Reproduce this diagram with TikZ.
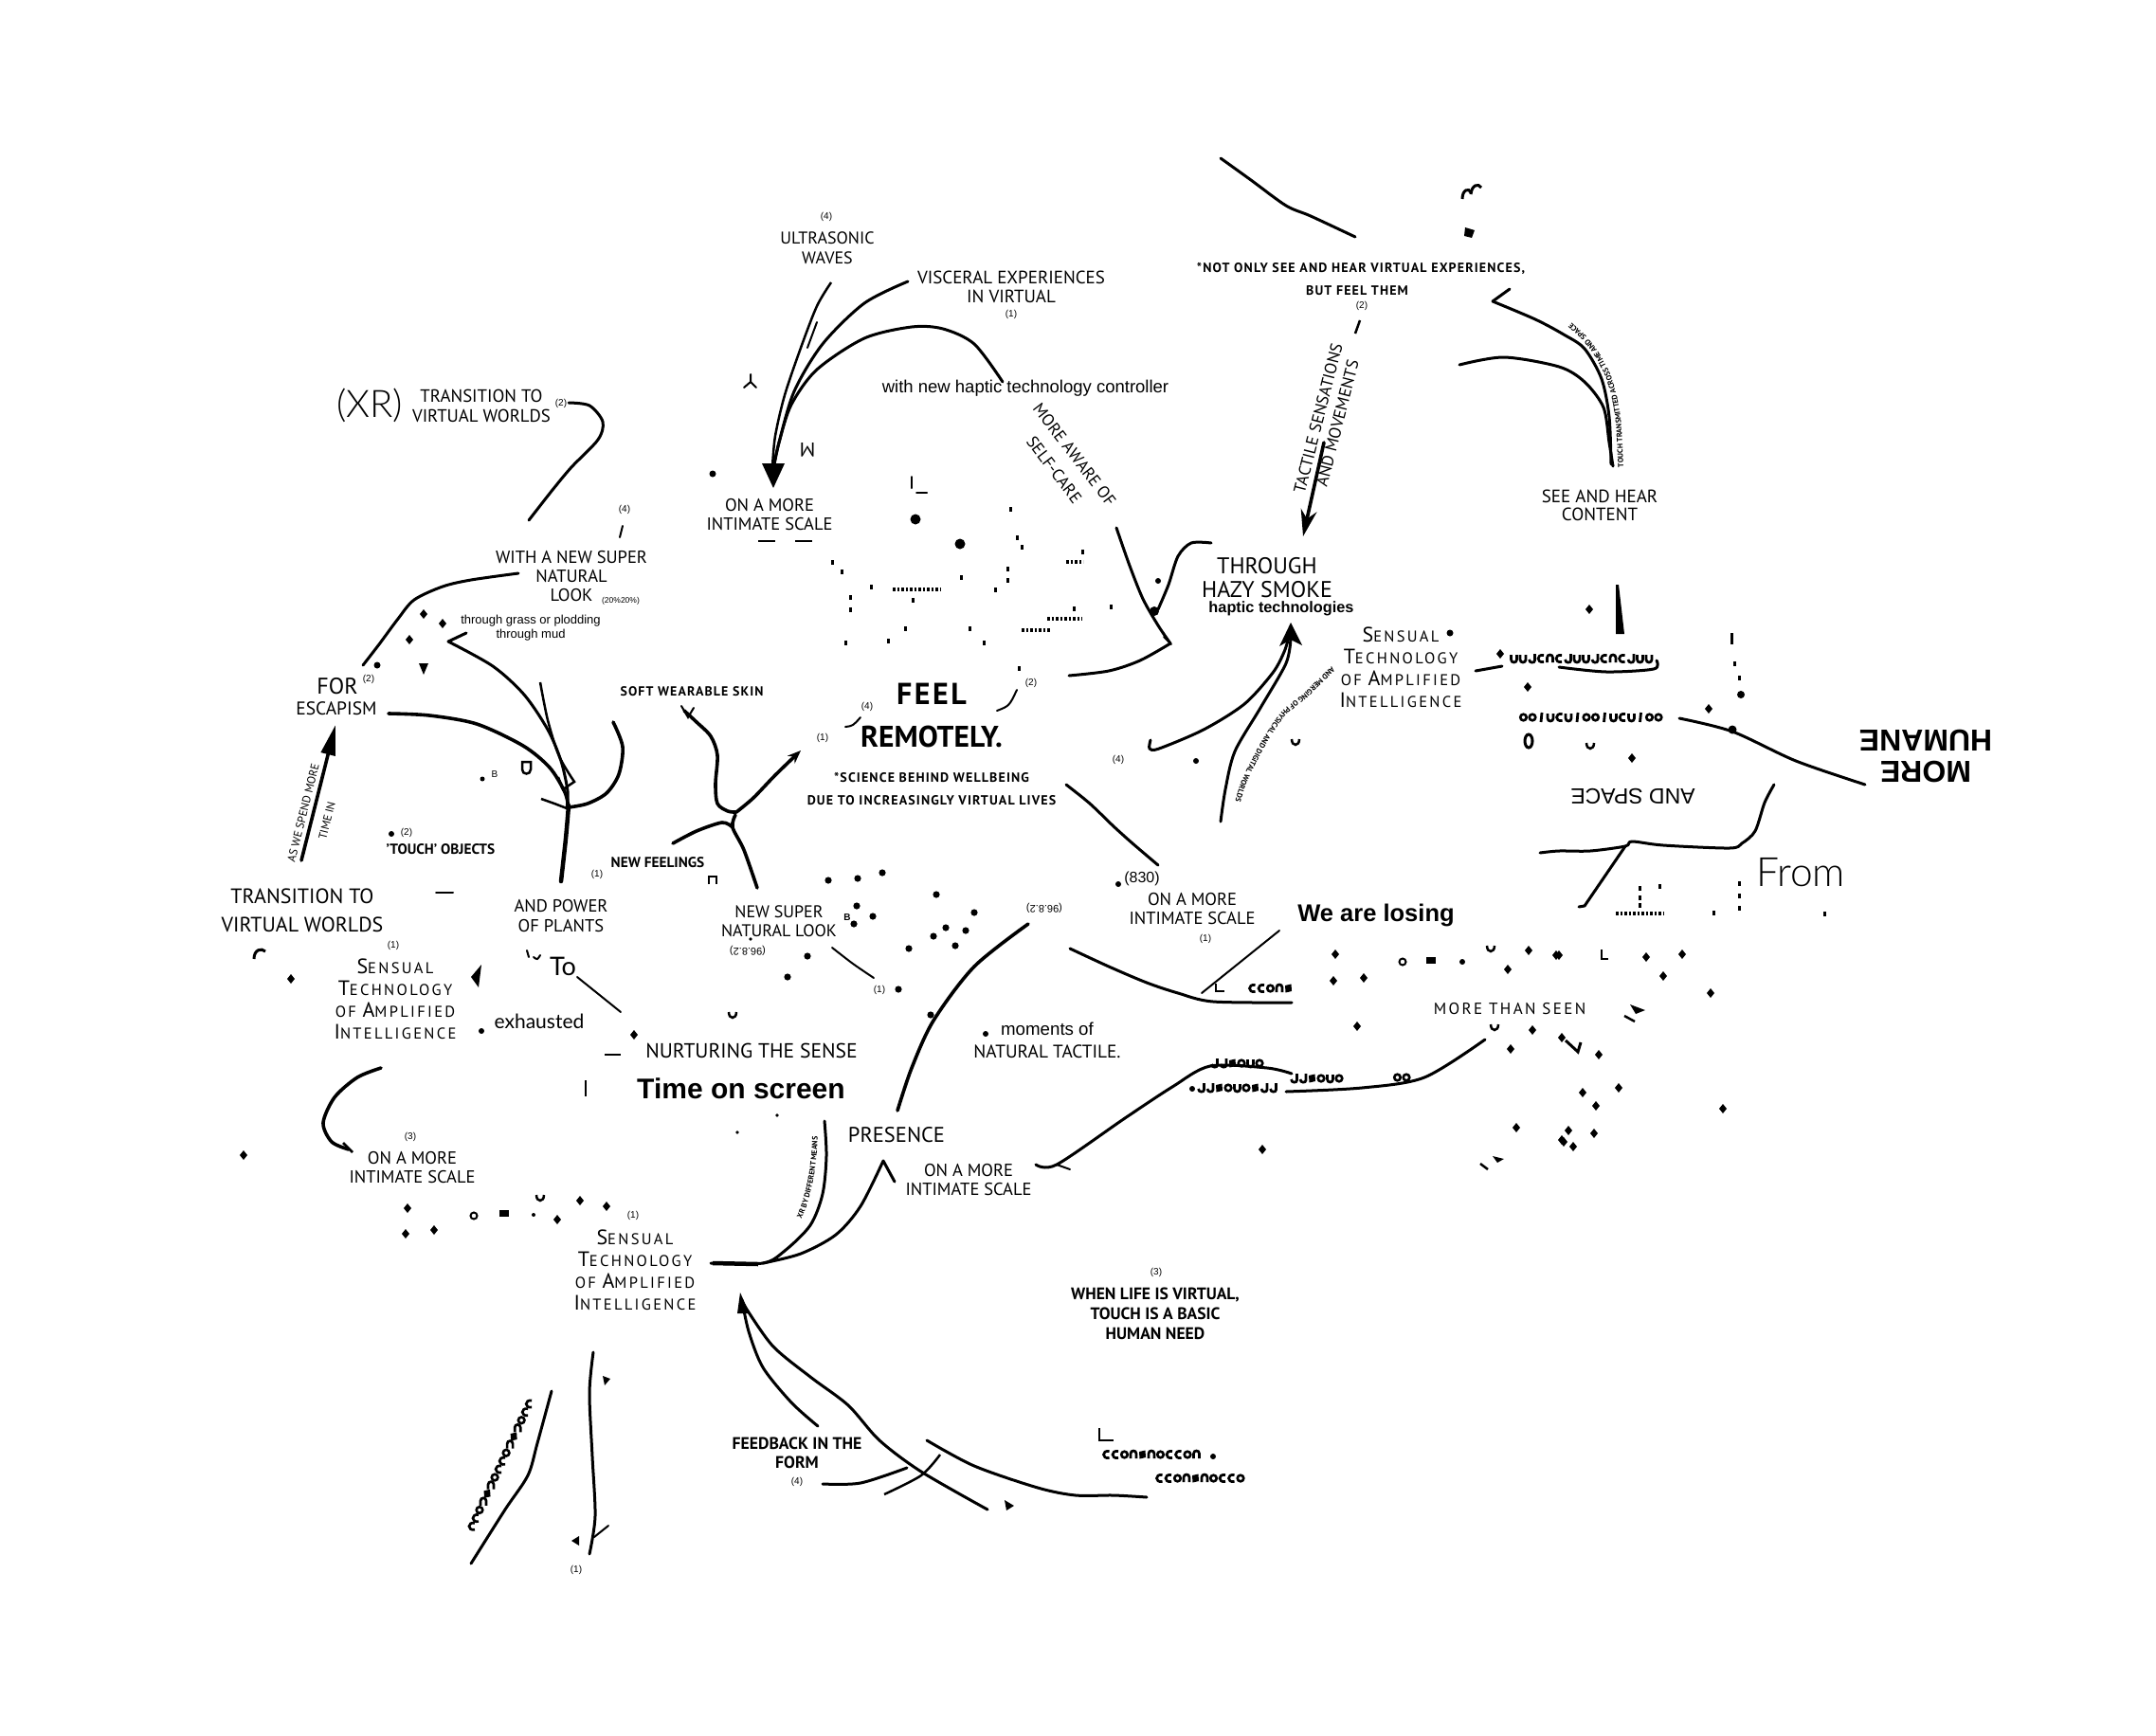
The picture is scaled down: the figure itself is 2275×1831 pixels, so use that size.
\documentclass[tikz,border=0pt]{standalone}
\usepackage{fontspec}
\setmainfont{PT Sans}
\newfontfamily\libfnt{Liberation Sans}
\newfontfamily\scfnt{PT Sans}[LetterSpace=14]
\newfontfamily\widefnt{PT Sans}[LetterSpace=8]
\IfFontExistsTF{Lato Light}{\newfontfamily\thinfnt{Lato Light}}{\newfontfamily\thinfnt{Liberation Sans}}
\IfFontExistsTF{Lato}{\newfontfamily\latofnt{Lato}}{\newfontfamily\latofnt{Liberation Sans}}
\usetikzlibrary{arrows.meta,decorations.text}
\newcommand\fsz[2]{\fontsize{#1}{#2}\selectfont}
\newcommand\scA[1]{{\fsz{22}{23}#1}}
\newcommand\scB[1]{{\fsz{16.5}{23}#1}}
\newcommand\glyphrow[3]{%
  \foreach \i in {1,...,#3}{%
    \pgfmathtruncatemacro\gm{mod(\i*\i*3+\i*5+abs(round(#1)),7)}%
    \pgfmathsetmacro\gx{#1+9.5*\i}%
    \ifcase\gm \pic at (\gx,#2) {gA};%
    \or \pic at (\gx,#2) {gB};%
    \or \pic at (\gx,#2) {gC};%
    \or \pic at (\gx,#2) {gD};%
    \or \pic at (\gx,#2) {gE};%
    \or \pic at (\gx,#2) {gF};%
    \else \pic at (\gx,#2) {gG};%
    \fi}}
\begin{document}
\begin{tikzpicture}[x=1pt,y=-1pt,
  txt/.style={inner sep=0pt, align=center},
  num/.style={inner sep=0pt, font=\libfnt\fsz{10}{11}},
  ln/.style={line width=3pt, line cap=round, line join=round},
  thk/.style={line width=3.6pt, line cap=round, line join=round},
  thn/.style={line width=2pt, line cap=round},
  tinyrow/.style={line width=4pt, dash pattern=on 2.5pt off 2pt},
  dia/.pic={\fill (0,-5)--(4,0)--(0,5)--(-4,0)--cycle;},
  mk/.pic={\fill (-1.5,-2.5) rectangle (1.5,2.5);},
  hk/.pic={\draw[line width=2.5pt] (-4,-4) .. controls (-4,4) and (4,4) .. (4,-4);},
  ring/.pic={\draw[line width=2pt] (0,0) circle (3.5);},
  blob/.pic={\fill (-5,-3.5) rectangle (5,3.5);},
  gA/.pic={\draw[line width=2.7pt] (-3,-4) -- (-3,1) .. controls (-3,5) and (3,5) .. (3,1) -- (3,-4);},
  gB/.pic={\draw[line width=2.7pt] (-3,4) -- (-3,-1) .. controls (-3,-5) and (3,-5) .. (3,-1) -- (3,4);},
  gC/.pic={\draw[line width=2.8pt] (0.5,-5) -- (-0.5,5);},
  gD/.pic={\draw[line width=2.6pt] (0,0) circle (3.3);},
  gE/.pic={\draw[line width=2.7pt] (3,-3.5) .. controls (-5,-5) and (-5,5) .. (3,3.5);},
  gF/.pic={\fill (-3.5,-3) -- (3,-4.5) -- (3.5,3) -- (-3,4.5) -- cycle;},
  gG/.pic={\draw[line width=2.7pt] (3,-5) -- (3,2) .. controls (3,5) and (-3,5) .. (-3,1);}
]
\fill[white] (0,0) rectangle (2275,1831);
\useasboundingbox (0,0) rectangle (2275,1831);

% ================= top left =================
\node[txt,font=\thinfnt\fsz{40}{42}] (xr) at (390,428) {(XR)};
\node[txt,font=\fsz{18.8}{21}] (trA) at (508,428) {TRANSITION TO\\VIRTUAL WORLDS};
\node[num] (trAn) at (592,426) {(2)};
\draw[ln] plot[smooth] coordinates {(600,425) (622,428) (636,445) (631,464) (603,493) (583,517) (558,549)};
\node[num] (wn4) at (659,538) {(4)};
\draw[thn] (657,555) -- (654,567);
\node[txt,font=\fsz{18.5}{20}] (withnew) at (603,608) {WITH A NEW SUPER\\NATURAL\\LOOK};
\node[txt,font=\libfnt\fsz{8.5}{9}] (pct) at (655,634) {(20\%20\%)};
\draw[ln] plot[smooth] coordinates {(547,605) (497,612) (467,619) (437,633) (420,653) (400,680) (383,702)};
\pic at (447,648) {dia}; \pic at (467,658) {dia}; \pic at (432,675) {dia};
\fill (398,702) circle (3.5);
\fill (442,700) -- (452,700) -- (447,712) -- cycle;
\node[txt,font=\libfnt\fsz{13}{15}] (grass) at (560,663) {through grass or plodding\\through mud};
\draw[ln] (492,668) -- (473,677);
\draw[ln] plot[smooth] coordinates {(473,677) (520,703) (553,733) (578,770) (592,803) (599,835) (598,853)};
\draw[line width=2.5pt] plot[smooth] coordinates {(570,720) (578,760) (590,798) (606,825)} -- (594,833) -- (589,820);
\node[txt,font=\fsz{24}{26}] (for) at (356,724) {FOR};
\node[num] (forn) at (389,717) {(2)};
\node[txt,font=\fsz{19.5}{21}] (esc) at (355,748) {ESCAPISM};
\draw[thk] plot[smooth] coordinates {(410,753) (453,755) (503,764) (552,787) (580,810) (596,836) (600,853)};
\draw[thk] plot[smooth] coordinates {(647,762) (657,788) (653,817) (640,837) (620,848) (600,852)};
\draw[line width=4.5pt, line cap=round] plot[smooth] coordinates {(600,850) (597,885) (592,930)};
\draw[line width=2.5pt] (571,843) -- (585,848) -- (598,853);
\draw[thk,-{Triangle[length=32pt,width=15pt]}] (318,908) -- (354,765);
\node[txt,font=\fsz{12}{12},rotate=76] (asw) at (320,858) {AS WE SPEND MORE};
\node[txt,font=\fsz{12}{12},rotate=76] (timein) at (345,866) {TIME IN};
\fill (413,880) circle (3);
\node[num] (tn2) at (429,879) {(2)};
\node[txt,font=\bfseries\fsz{15.3}{16}] (touch) at (465,896) {'TOUCH' OBJECTS};
\node[txt,font=\libfnt\fsz{10}{11}] (bA) at (522,817) {B};
\fill (509,822) circle (2.5);
\draw[line width=2.5pt] (551,804) -- (551,812) .. controls (551,818) and (560,818) .. (560,812) -- (560,804) -- cycle;

% ================= left middle =================
\node[txt,font=\fsz{22}{30}] (trB) at (319,961) {TRANSITION TO\\VIRTUAL WORLDS};
\draw[thn] (460,942) -- (478,942);
\node[num] (pw1) at (630,923) {(1)};
\node[txt,font=\fsz{18.5}{21}] (power) at (592,967) {AND POWER\\OF PLANTS};
\node[num] (sa1) at (415,998) {(1)};
\node[txt,font=\scfnt\fsz{16.5}{23}] (staiA) at (417,1054) {\scA{S}\scB{ENSUAL}\\\scA{T}\scB{ECHNOLOGY}\\\scB{OF} \scA{A}\scB{MPLIFIED}\\\scA{I}\scB{NTELLIGENCE}};
\draw[line width=3pt] (268,1012) .. controls (268,1002) and (276,1000) .. (280,1004);
\pic at (307,1033) {dia};
\fill (508,1018) -- (505,1042) -- (497,1031) -- cycle;
\draw[thn] (556,1003) -- (558,1010);
\draw[thn] (563,1010) .. controls (567,1013) .. (570,1008);
\node[txt,font=\latofnt\fsz{27}{28}] (to) at (594,1020) {To};
\draw[thn] (609,1031) -- (655,1068);
\fill (508,1088) circle (3);
\node[txt,font=\latofnt\fsz{21}{22}] (exh) at (569,1078) {exhausted};
\pic at (669,1092) {dia};
\draw[line width=2.5pt] (638,1113) -- (655,1113);
\draw[line width=2pt] (618,1140) -- (618,1157);
\node[txt,font=\fsz{21.6}{22}] (nurt) at (793,1109) {NURTURING THE SENSE};
\node[txt,font=\libfnt\bfseries\fsz{30}{32}] (time) at (782,1149) {Time on screen};
\draw[thk] plot[smooth] coordinates {(402,1127) (377,1137) (353,1158) (341,1185) (350,1205) (368,1213)};
\draw[line width=2.5pt] (362,1206) -- (372,1216);

% ================= bottom left =================
\pic at (257,1219) {dia};
\node[num] (ic3) at (433,1200) {(3)};
\node[txt,font=\fsz{18.5}{20}] (intC) at (435,1232) {ON A MORE\\INTIMATE SCALE};
\pic at (430,1275) {dia}; \pic at (428,1302) {dia}; \pic at (458,1298) {dia};
\pic at (500,1283) {ring}; \pic at (532,1280) {blob}; \fill (563,1282) circle (2);
\pic at (570,1265) {hk}; \pic at (588,1287) {dia}; \pic at (612,1267) {dia}; \pic at (640,1273) {dia};
\node[num] (sb1) at (668,1283) {(1)};
\node[txt,font=\scfnt\fsz{16.5}{23}] (staiB) at (670,1340) {\scA{S}\scB{ENSUAL}\\\scA{T}\scB{ECHNOLOGY}\\\scB{OF} \scA{A}\scB{MPLIFIED}\\\scA{I}\scB{NTELLIGENCE}};
\draw[ln] plot[smooth] coordinates {(626,1427) (622,1470) (625,1537) (628,1600) (622,1640)};
\draw[thn] (627,1622) -- (642,1610);
\fill (636,1452) -- (644,1455) -- (638,1462) -- cycle;
\fill (603,1626) -- (611,1621) -- (611,1631) -- cycle;
\node[num] (bl1) at (608,1657) {(1)};
\draw[ln] plot[smooth] coordinates {(582,1468) (567,1523) (557,1557) (533,1593) (497,1650)};
\begin{scope}[shift={(558,1482)},rotate=-115]
  \glyphrow{-10}{0}{16}
\end{scope}

% ================= top centre =================
\node[num] (u4) at (872,229) {(4)};
\node[txt,font=\fsz{18}{21}] (ultra) at (873,262) {ULTRASONIC\\WAVES};
\node[txt,font=\fsz{19}{20}] (visc) at (1067,303) {VISCERAL EXPERIENCES\\IN VIRTUAL};
\node[num] (v1) at (1067,332) {(1)};
\node[txt,font=\libfnt\fsz{18.5}{20}] (hapt) at (1082,410) {with new haptic technology controller};
\draw[line width=2.5pt] plot[smooth] coordinates {(877,298) (862,323) (845,367) (828,417) (818,460) (815,493)};
\draw[thn] (862,340) -- (852,367);
\draw[ln] plot[smooth] coordinates {(958,297) (912,320) (868,363) (838,413) (822,467) (816,495)};
\draw[ln] plot[smooth] coordinates {(1058,403) (1028,363) (995,347) (962,345) (912,357) (862,390) (835,427) (822,467) (816,495)};
\fill (804,489) -- (828,489) -- (816,515) -- cycle;
\node[txt,font=\fsz{18.5}{20}] (intA) at (812,543) {ON A MORE\\INTIMATE SCALE};
\draw[line width=2.5pt] (800,571) -- (818,571);
\draw[line width=2pt] (839,571) -- (857,571);
\draw[thn] (792,395) -- (792,403) -- (785,409);
\draw[thn] (792,403) -- (798,409);
\node[txt,font=\fsz{21}{21},rotate=180] (mrot) at (852,475) {M};
\draw[thn] (962,503) -- (962,515);
\draw[thn] (967,520) -- (978,520);
\fill (752,500) circle (3.5);
\fill (966,548) circle (5.5);
\fill (1013,574) circle (5.5);
\foreach \p in {(1066,537),(1073,567),(1078,577),(1142,582),(878,593),(888,603),(919,619),(963,633),(897,630),(897,643),(1014,609),(1063,600),(1063,612),(1050,622),(1133,642),(955,663),(1023,663),(1172,640),(892,678),(937,676),(1038,678),(1075,705)}
  \pic at \p {mk};
\draw[tinyrow] (1125,593) -- (1143,593);
\draw[tinyrow] (942,622) -- (993,622);
\draw[tinyrow] (1105,653) -- (1142,653);
\draw[tinyrow] (1078,665) -- (1108,665);
\coordinate (selfA1) at (1074,412); \coordinate (selfA2) at (1184,555);
\coordinate (selfB1) at (1053,428); \coordinate (selfB2) at (1162,571);
\path[decorate,decoration={text along path,text align=center,text={|\fsz{17.5}{18}|MORE AWARE OF}}] (selfA1) -- (selfA2);
\path[decorate,decoration={text along path,text align=center,text={|\fsz{17.5}{18}|SELF-CARE}}] (selfB1) -- (selfB2);
\draw[ln] plot[smooth] coordinates {(1178,557) (1192,597) (1206,632) (1222,660) (1235,679)};
\draw[ln] plot[smooth] coordinates {(1235,679) (1203,697) (1170,708) (1128,713)};
\draw[thn] (1228,672) -- (1236,680);
\draw[ln] plot[smooth] coordinates {(1278,573) (1257,573) (1243,587) (1233,617) (1222,643)};
\fill (1222,613) circle (3);
\fill (1218,645) circle (5);

% ================= FEEL REMOTELY =================
\node[txt,font=\widefnt\bfseries\fsz{13.9}{15}] (soft) at (730,730) {SOFT WEARABLE SKIN};
\draw[thk] plot[smooth] coordinates {(722,750) (735,762) (750,777) (757,797) (755,827) (757,848) (768,856) (777,857)};
\draw[thn] (719,745) -- (726,757) -- (732,747);
\draw[thk,-{Stealth[length=14pt,width=11pt]}] plot[smooth] coordinates {(777,857) (795,842) (818,818) (845,792)};
\draw[thk] plot[smooth] coordinates {(776,860) (773,873) (785,897) (799,937)};
\draw[thk] plot[smooth] coordinates {(773,873) (762,868) (735,877) (710,890)};
\node[txt,font=\bfseries\fsz{15.3}{16}] (nfeel) at (694,910) {NEW FEELINGS};
\draw[line width=2.5pt] (748,933) -- (748,925) -- (756,925) -- (756,933);
\node[txt,font=\widefnt\bfseries\fsz{32}{34}] (feel) at (983,732) {FEEL};
\node[txt,font=\bfseries\fsz{31.5}{34}] (remote) at (983,777) {REMOTELY.};
\node[num] (f4) at (915,746) {(4)};
\node[num] (f1) at (868,779) {(1)};
\node[num] (f2) at (1088,721) {(2)};
\draw[thn] (892,767) .. controls (900,766) .. (908,757);
\draw[thn] (1052,750) .. controls (1065,745) .. (1073,728);
\node[txt,font=\widefnt\bfseries\fsz{14}{24}] (sci) at (983,832) {*SCIENCE BEHIND WELLBEING\\DUE TO INCREASINGLY VIRTUAL LIVES};
\draw[ln] plot[smooth] coordinates {(1125,828) (1150,848) (1175,872) (1195,890) (1222,913)};
\node[txt,font=\fsz{18}{20}] (nsup) at (822,972) {NEW SUPER\\NATURAL LOOK};
\node[txt,font=\libfnt\fsz{11}{12},rotate=180] (d96a) at (789,1003) {(96.8.2)};
\fill (792,991) circle (1.8);
\node[txt,font=\libfnt\bfseries\fsz{10}{11}] (bB) at (894,968) {B};
\draw[thn] plot[smooth] coordinates {(878,1000) (900,1017) (922,1032)};
\node[num] (ns1) at (928,1045) {(1)};
\pic at (773,1072) {hk};
\foreach \p in {(874,929),(905,927),(931,921),(988,944),(1028,963),(904,956),(921,967),(901,975),(998,979),(1019,982),(985,988),(1008,998),(959,1001),(852,1009),(831,1031),(948,1044),(982,1071)}
  \fill \p circle (3.6);
\draw[thk] plot[smooth] coordinates {(1085,975) (1028,1020) (985,1077) (962,1127) (947,1172)};
\node[txt,font=\libfnt\fsz{11}{12},rotate=180] (d96b) at (1102,958) {(96.8.2)};
\fill (1040,1091) circle (3);
\node[txt,font=\libfnt\fsz{18.7}{20}] (mom) at (1105,1086) {moments of};
\node[txt,font=\fsz{19.3}{20}] (nat) at (1105,1110) {NATURAL TACTILE.};

% ================= presence =================
\node[txt,font=\fsz{22.5}{24}] (pres) at (946,1198) {PRESENCE};
\fill (778,1195) circle (1.8); \fill (820,1177) circle (1.8);
\draw[ln] plot[smooth] coordinates {(870,1183) (872,1220) (868,1260) (855,1293) (828,1320) (805,1333) (750,1333)};
\draw[line width=4.5pt] (752,1333) -- (800,1334);
\draw[ln] plot[smooth] coordinates {(805,1333) (845,1323) (882,1303) (908,1273) (932,1225)};
\draw[ln] (932,1225) -- (944,1247);
\path[decorate,decoration={text along path,text align=center,text={|\bfseries\fsz{8}{9}|XR BY DIFFERENT MEANS}}] plot[smooth] coordinates {(838,1302) (850,1276) (858,1246) (862,1215) (863,1182)};
\node[txt,font=\fsz{18.5}{20}] (intB) at (1022,1245) {ON A MORE\\INTIMATE SCALE};
\draw[ln] plot[smooth] coordinates {(1093,1229) (1115,1229) (1187,1180) (1237,1147) (1277,1125) (1337,1127) (1363,1133)};
\draw[thn] (1115,1229) -- (1129,1234);
\draw[ln] plot[smooth] coordinates {(1357,1152) (1437,1148) (1503,1137) (1567,1097)};
\glyphrow{1272}{1122}{6}
\fill (1258,1149) circle (3);
\glyphrow{1258}{1148}{9}
\glyphrow{1356}{1138}{6}
\glyphrow{1465}{1137}{2}

% ================= feedback =================
\draw[ln] plot[smooth] coordinates {(783,1372) (790,1405) (805,1443) (835,1480) (863,1505)};
\draw[ln] plot[smooth] coordinates {(785,1377) (815,1420) (855,1453) (895,1483) (928,1520) (972,1553) (1042,1593)};
\fill (781,1364) -- (791,1386) -- (778,1386) -- cycle;
\node[txt,font=\bfseries\fsz{17.7}{20}] (fb) at (841,1533) {FEEDBACK IN THE\\FORM};
\node[num] (fb4) at (841,1564) {(4)};
\draw[ln] plot[smooth] coordinates {(868,1566) (908,1565) (957,1549)};
\draw[line width=2.5pt] plot[smooth] coordinates {(933,1577) (972,1557) (992,1535)};
\draw[ln] plot[smooth] coordinates {(978,1520) (1028,1547) (1095,1570) (1135,1578) (1175,1578) (1210,1580)};
\fill (1060,1583) -- (1070,1589) -- (1062,1594) -- cycle;
\draw[line width=2.5pt] (1160,1507) -- (1160,1520) -- (1175,1520);
\glyphrow{1158}{1535}{11}
\fill (1280,1537) circle (3);
\glyphrow{1214}{1560}{10}
\node[num] (w3) at (1220,1343) {(3)};
\node[txt,font=\bfseries\fsz{17.6}{21}] (when) at (1219,1386) {WHEN LIFE IS VIRTUAL,\\TOUCH IS A BASIC\\HUMAN NEED};

% ================= top right =================
\draw[ln] plot[smooth] coordinates {(1288,167) (1320,190) (1357,217) (1383,228) (1430,250)};
\draw[line width=3pt] (1543,210) .. controls (1543,200) and (1550,198) .. (1552,203);
\draw[line width=3pt] (1552,205) .. controls (1553,195) and (1560,193) .. (1563,198);
\fill (1546,240) -- (1556,243) -- (1553,251) -- (1545,249) -- cycle;
\node[txt,font=\widefnt\bfseries\fsz{14}{15}] (notA) at (1436,283) {*NOT ONLY SEE AND HEAR VIRTUAL EXPERIENCES,};
\node[txt,font=\widefnt\bfseries\fsz{14}{15}] (notB) at (1432,307) {BUT FEEL THEM};
\node[num] (nt2) at (1437,323) {(2)};
\draw[line width=2.5pt] (1435,338) -- (1430,352);
\node[txt,font=\fsz{17.5}{21},rotate=75.7] (tact) at (1401,444) {TACTILE SENSATIONS\\AND MOVEMENTS};
\draw[thk,-{Stealth[length=28pt,width=17pt]}] (1397,467) -- (1375,566);
\node[txt,font=\fsz{24}{25}] (hazy) at (1337,610) {THROUGH\\HAZY SMOKE};
\node[txt,font=\libfnt\bfseries\fsz{16.3}{17}] (hapt2) at (1352,642) {haptic technologies};
\draw[ln] (1593,305) -- (1575,318);
\draw[ln] plot[smooth] coordinates {(1575,318) (1620,337) (1650,353) (1672,368) (1690,400) (1698,440) (1700,490)};
\draw[ln] plot[smooth] coordinates {(1540,385) (1587,377) (1645,387) (1672,403) (1692,430) (1698,467) (1702,492)};
\path[decorate,decoration={text along path,text align=left,text={|\bfseries\fsz{8}{9}|TOUCH TRANSMITTED ACROSS TIME AND SPACE}}] plot[smooth] coordinates {(1713,493) (1710,440) (1701,400) (1683,366) (1658,340) (1628,318) (1610,308)};
\node[txt,font=\fsz{19}{19}] (seeh) at (1688,533) {SEE AND HEAR\\CONTENT};
\pic at (1677,643) {dia};
\fill (1705,617) -- (1708,617) -- (1714,669) -- (1705,669) -- cycle;

% ================= right middle =================
\fill (1362,657) -- (1374,681) -- (1362,675) -- (1350,682) -- cycle;
\draw[ln] plot[smooth] coordinates {(1360,672) (1355,688) (1343,710) (1313,743) (1270,770) (1223,790) (1213,790) (1214,781)};
\draw[ln] plot[smooth] coordinates {(1362,673) (1357,700) (1330,747) (1303,793) (1293,833) (1288,867)};
\path[decorate,decoration={text along path,text align=left,text={|\bfseries\fsz{8}{9}|AND MERGING OF PHYSICAL AND DIGITAL WORLDS}}] plot[smooth] coordinates {(1405,703) (1378,730) (1352,752) (1330,785) (1310,825) (1300,860) (1296,893)};
\node[num] (h4) at (1180,802) {(4)};
\fill (1262,803) circle (3);
\pic at (1367,784) {hk};
\node[txt,font=\scfnt\fsz{16.5}{23}] (staiC) at (1478,704) {\scA{S}\scB{ENSUAL}\\\scA{T}\scB{ECHNOLOGY}\\\scB{OF} \scA{A}\scB{MPLIFIED}\\\scA{I}\scB{NTELLIGENCE}};
\fill (1530,668) circle (3.5);
\draw[ln] (1557,708) -- (1585,703);
\pic at (1583,690) {dia};
\glyphrow{1588}{695}{16}
\draw[ln] plot[smooth] coordinates {(1645,704) (1695,709) (1745,706) (1748,697)};
\pic at (1612,725) {dia};
\glyphrow{1598}{757}{16}
\draw[ln] plot[smooth] coordinates {(1772,758) (1828,772) (1895,803) (1968,828)};
\fill (1828,770) circle (4.5);
\pic at (1803,748) {dia};
\draw[line width=3pt] (1613,782) ellipse (4 and 7);
\pic at (1678,788) {hk};
\pic at (1722,800) {dia};
\draw[line width=3pt] (1827,668) -- (1827,680);
\pic at (1830,700) {mk}; \pic at (1835,715) {mk};
\fill (1837,733) circle (4);
\node[txt,font=\libfnt\bfseries\fsz{32}{33},rotate=180] (hum) at (2032,798) {MORE\\HUMANE};
\node[txt,font=\libfnt\fsz{23}{24},rotate=180] (spc) at (1723,840) {AND SPACE};
\draw[ln] plot[smooth] coordinates {(1625,900) (1645,898) (1678,898) (1715,893) (1722,888) (1755,892) (1825,895) (1838,890) (1852,877) (1862,847) (1872,828)};
\draw[ln] (1715,893) -- (1672,956) -- (1666,957);
\node[txt,font=\thinfnt\fsz{42.5}{44}] (from) at (1900,921) {From};
\foreach \p in {(1730,937),(1730,947),(1730,955),(1751,935),(1808,963),(1835,932),(1835,945),(1835,958),(1925,964)}
  \pic at \p {mk};
\draw[tinyrow] (1705,964) -- (1756,964);

% ================= right lower =================
\fill (1180,933) circle (3);
\node[txt,font=\libfnt\fsz{16}{17}] (n830) at (1205,927) {(830)};
\node[txt,font=\fsz{18.5}{20}] (intR) at (1258,959) {ON A MORE\\INTIMATE SCALE};
\node[num] (ir1) at (1272,991) {(1)};
\node[txt,font=\libfnt\bfseries\fsz{25.5}{27}] (lose) at (1452,966) {We are losing};
\draw[ln] plot[smooth] coordinates {(1129,1001) (1170,1020) (1210,1037) (1243,1048) (1280,1057) (1363,1058)};
\draw[thn] (1350,982) -- (1268,1048);
\draw[line width=2.5pt] (1283,1038) -- (1283,1046) -- (1292,1046);
\glyphrow{1312}{1043}{5}
\pic at (1409,1007) {dia}; \pic at (1480,1015) {ring}; \pic at (1510,1013) {blob};
\fill (1543,1015) circle (3); \pic at (1573,1002) {hk};
\pic at (1613,1003) {dia}; \pic at (1642,1008) {dia}; \pic at (1591,1023) {dia};
\pic at (1407,1035) {dia}; \pic at (1439,1032) {dia}; \pic at (1432,1083) {dia};
\node[txt,font=\scfnt\fsz{17}{18}] (mts) at (1593,1065) {MORE THAN SEEN};
\pic at (1577,1085) {hk};
\pic at (1617,1087) {dia}; \pic at (1594,1107) {dia}; \pic at (1648,1095) {dia};
\foreach \p in {(1645,1008),(1737,1010),(1775,1007),(1755,1030),(1805,1048),(1687,1113),(1708,1148),(1670,1153),(1684,1167),(1818,1170),(1600,1190),(1648,1203),(1682,1196),(1655,1193),(1660,1210),(1650,1205),(1332,1213)}
  \pic at \p {dia};
\draw[line width=2.5pt] (1690,1002) -- (1690,1012) -- (1697,1012);
\fill (1720,1060) -- (1736,1066) -- (1726,1070) -- cycle;
\draw[line width=2.5pt] (1714,1072) -- (1725,1078);
\draw[line width=3pt] (1652,1098) -- (1665,1110) -- (1668,1100);
\draw[line width=2.5pt] (1562,1228) -- (1570,1234);
\fill (1575,1220) -- (1587,1223) -- (1580,1227) -- cycle;
\end{tikzpicture}
\end{document}
